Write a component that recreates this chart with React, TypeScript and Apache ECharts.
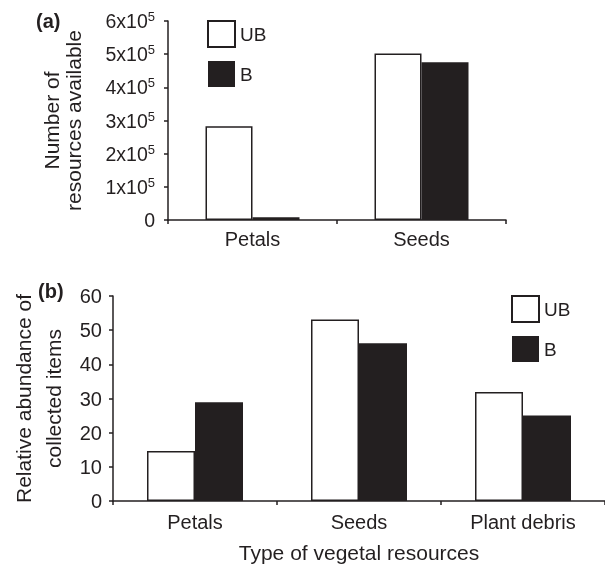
import React, { useEffect, useRef } from "react";
import * as echarts from "echarts";

const catsA = ["Petals", "Seeds"];
const ubA = [283000, 502000];
const bA = [8000, 476000];

const catsB = ["Petals", "Seeds", "Plant debris"];
const ubB = [14.6, 53.1, 31.9];
const bB = [28.9, 46.2, 25.0];

const legendNames = ["UB", "B"];

const INK = "#231f20";
const FONT = "'Liberation Sans', Arial, sans-serif";

export default function App() {
  const ref = useRef<HTMLDivElement>(null);
  useEffect(() => {
    document.body.style.margin = "0";
    const chart = echarts.init(ref.current!, null, { renderer: "svg" });
    const ubStyle = { color: "#ffffff", borderColor: INK, borderWidth: 1.5 };
    const bStyle = { color: INK, borderColor: INK, borderWidth: 0 };
    const catAxisBase = {
      type: "category" as const,
      axisLine: { show: true, lineStyle: { color: INK, width: 1.5 } },
      axisTick: { show: true, length: 4, lineStyle: { color: INK, width: 1.5 } },
      axisLabel: { color: INK, fontSize: 20, fontFamily: FONT },
    };
    const valAxisBase = {
      type: "value" as const,
      axisLine: { show: true, lineStyle: { color: INK, width: 1.5 } },
      axisTick: { show: true, length: 4, lineStyle: { color: INK, width: 1.5 } },
      splitLine: { show: false },
    };
    chart.setOption({
      animation: false,
      textStyle: { fontFamily: FONT, color: INK },
      grid: [
        { left: 168, top: 21, width: 338, height: 199 },
        { left: 104, top: 296, width: 502, height: 205 },
      ],
      xAxis: [
        { ...catAxisBase, gridIndex: 0, data: catsA, axisLabel: { ...catAxisBase.axisLabel, margin: 9 } },
        {
          ...catAxisBase,
          gridIndex: 1,
          data: catsB,
          axisLabel: { ...catAxisBase.axisLabel, margin: 11 },
          name: "Type of vegetal resources",
          nameLocation: "middle",
          nameGap: 41,
          nameTextStyle: { fontSize: 21, color: INK, fontFamily: FONT, verticalAlign: "top" },
        },
      ],
      yAxis: [
        {
          ...valAxisBase,
          gridIndex: 0,
          min: 0,
          max: 600000,
          interval: 100000,
          axisLabel: {
            margin: 13,
            color: INK,
            fontFamily: FONT,
            formatter: (v: number) => (v === 0 ? "{b|0}" : `{b|${v / 100000}x10}{s|5}`),
            rich: {
              b: { fontSize: 19.5, color: INK, fontFamily: FONT, lineHeight: 22 },
              s: { fontSize: 13, color: INK, fontFamily: FONT, lineHeight: 14, verticalAlign: "top" },
            },
          },
          name: "Number of\nresources available",
          nameLocation: "middle",
          nameGap: 84,
          nameTextStyle: { fontSize: 21, color: INK, fontFamily: FONT, lineHeight: 22 },
        },
        {
          ...valAxisBase,
          gridIndex: 1,
          min: 0,
          max: 60,
          interval: 10,
          axisLabel: { margin: 11, color: INK, fontSize: 20, fontFamily: FONT },
          name: "Relative abundance of\ncollected items",
          nameLocation: "middle",
          nameGap: 45,
          nameTextStyle: { fontSize: 21, color: INK, fontFamily: FONT, lineHeight: 30 },
        },
      ],
      legend: [
        {
          data: legendNames,
          orient: "vertical",
          left: 207,
          top: 20,
          itemWidth: 27,
          itemHeight: 26,
          itemGap: 13,
          icon: "rect",
          selectedMode: false,
          textStyle: { fontSize: 19, color: INK, fontFamily: FONT },
          padding: 0,
        },
        {
          data: legendNames,
          orient: "vertical",
          left: 511,
          top: 295,
          itemWidth: 27,
          itemHeight: 26,
          itemGap: 13,
          icon: "rect",
          selectedMode: false,
          textStyle: { fontSize: 19, color: INK, fontFamily: FONT },
          padding: 0,
        },
      ],
      graphic: [
        { type: "text", left: 36, top: 11, style: { text: "(a)", font: `bold 20px ${FONT}`, fill: INK } },
        { type: "text", left: 38, top: 281, style: { text: "(b)", font: `bold 20px ${FONT}`, fill: INK } },
      ],
      series: [
        { name: "UB", type: "bar", xAxisIndex: 0, yAxisIndex: 0, data: ubA, barWidth: 47, barGap: "0%", itemStyle: ubStyle },
        { name: "B", type: "bar", xAxisIndex: 0, yAxisIndex: 0, data: bA, barWidth: 47, barGap: "0%", itemStyle: bStyle },
        { name: "UB", type: "bar", xAxisIndex: 1, yAxisIndex: 1, data: ubB, barWidth: 48, barGap: "0%", itemStyle: ubStyle },
        { name: "B", type: "bar", xAxisIndex: 1, yAxisIndex: 1, data: bB, barWidth: 48, barGap: "0%", itemStyle: bStyle },
      ],
    });
    return () => chart.dispose();
  }, []);
  return <div ref={ref} style={{ position: "fixed", left: 0, top: 0, width: 605, height: 564 }} />;
}
